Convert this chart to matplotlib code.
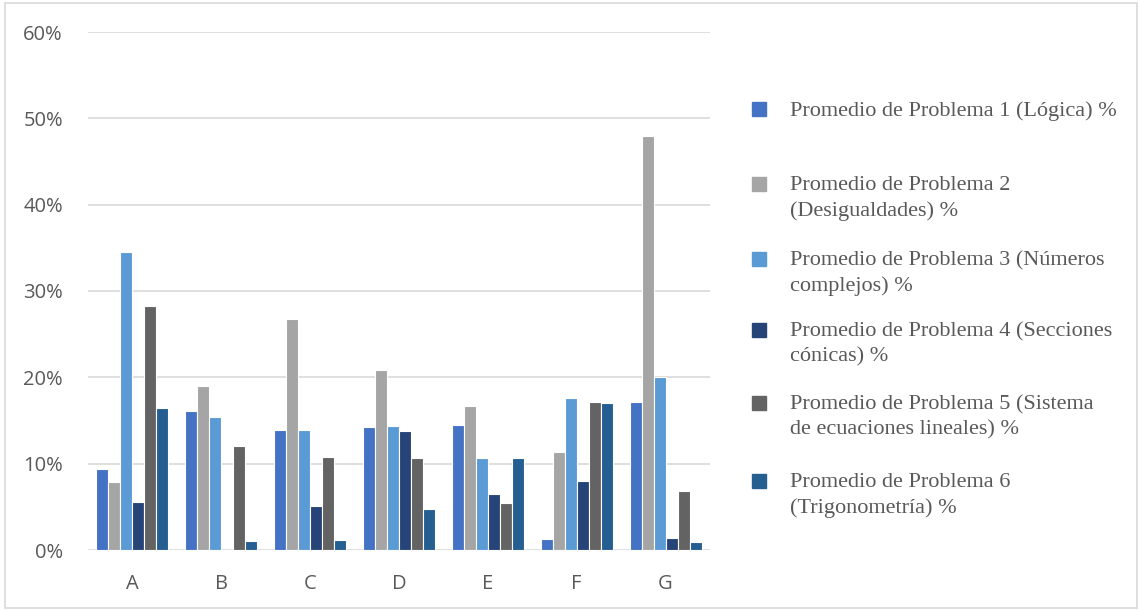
import matplotlib.pyplot as plt
from matplotlib.patches import Rectangle
from matplotlib.ticker import PercentFormatter
import numpy as np

groups = ['A', 'B', 'C', 'D', 'E', 'F', 'G']

# Promedio por problema (%), uno por grupo
p1 = [9.4, 16.1, 13.9, 14.3, 14.5, 1.3, 17.2]
p2 = [7.9, 19.0, 26.7, 20.9, 16.7, 11.4, 47.9]
p3 = [34.5, 15.4, 13.9, 14.4, 10.7, 17.6, 20.0]
p4 = [5.6, 0.0, 5.1, 13.8, 6.5, 8.0, 1.4]
p5 = [28.3, 12.0, 10.8, 10.7, 5.5, 17.2, 6.8]
p6 = [16.4, 1.1, 1.2, 4.8, 10.6, 17.0, 0.9]

labels = ['Promedio de Problema 1 (Lógica) %',
          'Promedio de Problema 2\n(Desigualdades) %',
          'Promedio de Problema 3 (Números\ncomplejos) %',
          'Promedio de Problema 4 (Secciones\ncónicas) %',
          'Promedio de Problema 5 (Sistema\nde ecuaciones lineales) %',
          'Promedio de Problema 6\n(Trigonometría) %']

colors = ['#4472C4', '#A5A5A5', '#5B9BD5', '#264478', '#636363', '#255E91']
series = [p1, p2, p3, p4, p5, p6]

W, H = 1139, 611
fig = plt.figure(figsize=(W / 100, H / 100), dpi=100)
ax = fig.add_axes([88 / W, 1 - 550 / H, (710 - 88) / W, (550 - 32) / H])

x = np.arange(len(groups))
step = 0.135
for i, (vals, c) in enumerate(zip(series, colors)):
    off = (i - 2.5) * step
    ax.bar(x + off, np.array(vals) / 100, width=step, color=c,
           edgecolor='white', linewidth=0.8, zorder=3)

ax.set_xlim(-0.5, len(groups) - 0.5)
ax.set_ylim(0, 0.6)
ax.set_yticks(np.arange(0, 0.61, 0.1))
ax.yaxis.set_major_formatter(PercentFormatter(1.0, decimals=0))
ax.set_xticks(x)
ax.set_xticklabels(groups)
ax.grid(axis='y', color='#D9D9D9', linewidth=1.2, zorder=0)
for s in ax.spines.values():
    s.set_visible(False)
ax.tick_params(length=0, labelsize=14.5, labelcolor='#595959')
ax.tick_params(axis='y', pad=18)
ax.tick_params(axis='x', pad=17.5)
for t in ax.get_xticklabels() + ax.get_yticklabels():
    t.set_fontfamily('Open Sans')

# leyenda a la derecha
ys = [109, 184, 259, 330, 403, 481]
for lab, c, yy in zip(labels, colors, ys):
    fig.patches.append(Rectangle((752 / W, 1 - (yy + 7) / H), 14 / W, 14 / H,
                                 transform=fig.transFigure, color=c))
    fig.text(790 / W, 1 - (yy - 8) / H, lab, ha='left', va='top',
             fontsize=16, family='Liberation Serif', color='#595959',
             linespacing=1.4)

# borde exterior
fig.patches.append(Rectangle((5 / W, 3 / H), (W - 7) / W, (H - 6) / H,
                             transform=fig.transFigure, fill=False,
                             edgecolor='#D9D9D9', linewidth=1.2))

fig.savefig('out.png', dpi=100)
